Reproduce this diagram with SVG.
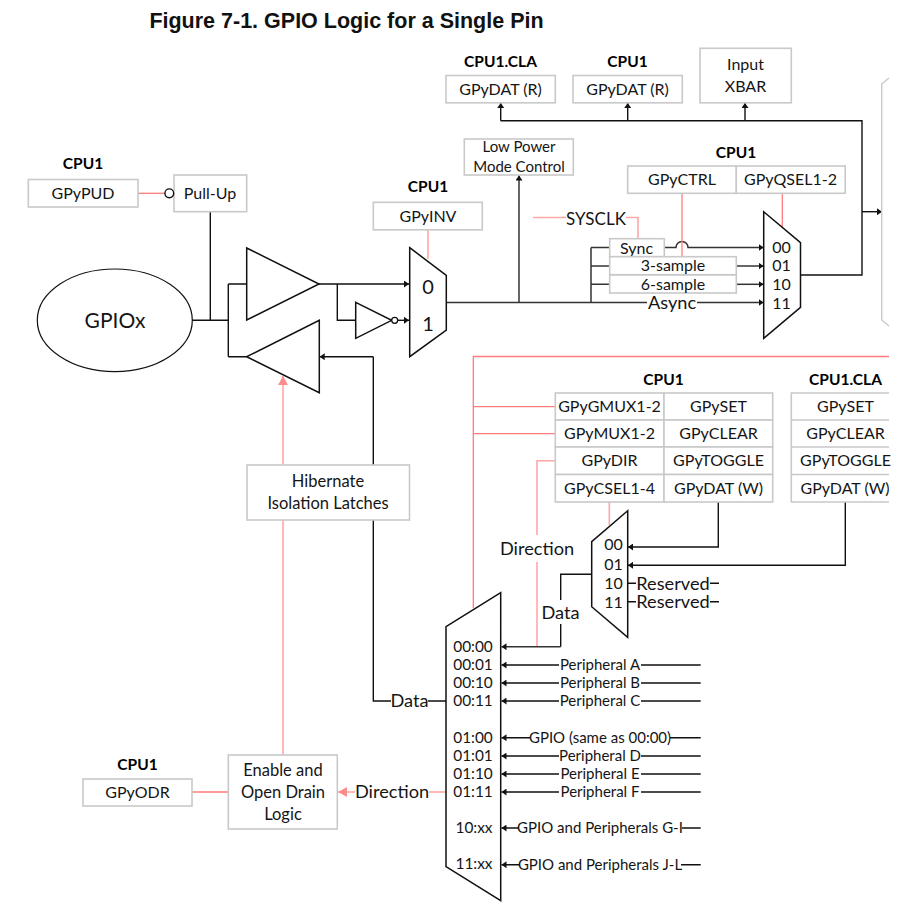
<svg xmlns="http://www.w3.org/2000/svg" width="901" height="917" viewBox="0 0 901 917">
<style>
text{font-family:"Lato","Open Sans","Liberation Sans",sans-serif;fill:#151515;text-anchor:middle}
.t{font-size:16px}.n{font-size:15.4px}.p{font-size:15px}.w{font-size:16.5px}.lg{font-size:18.2px}.h{font-size:15.5px;font-weight:700;fill:#000}
.b{fill:#fff;stroke:#c9c9c9;stroke-width:1.6}
.k{fill:none;stroke:#111;stroke-width:1.4}
.g{fill:none;stroke:#333;stroke-width:1.5}
.r{fill:none;stroke:#ff7c7c;stroke-width:1.3}
.rl{fill:none;stroke:#ffa6a6;stroke-width:1.6}
.m{fill:#fff;stroke:#111;stroke-width:1.5}
</style>
<defs>
<marker id="a" markerUnits="userSpaceOnUse" markerWidth="6" markerHeight="7" refX="5" refY="3.5" orient="auto"><path d="M0 0L5 3.5L0 7z" fill="#111"/></marker>
<marker id="ap" markerUnits="userSpaceOnUse" markerWidth="10" markerHeight="10" refX="9" refY="5" orient="auto"><path d="M0 0L9 5L0 10z" fill="#ff8c8c"/></marker>
</defs>
<rect width="901" height="917" fill="#fff"/>
<text x="346.5" y="28" style="font-family:'Liberation Sans',sans-serif;font-size:21.5px;font-weight:700;fill:#111">Figure 7-1. GPIO Logic for a Single Pin</text>

<g id="connectors">
<path class="r" d="M138 193.3H165"/>
<path class="k" d="M210.3 211.7V320.3M192 320.3H228.3M228.3 284V356.7M228.3 284H246.7M228.3 356.7H246.7"/>
<path class="k" d="M319 284H409" marker-end="url(#a)"/>
<path class="k" d="M337.3 284V320.3H355.7"/>
<path class="k" d="M397.7 320.3H409" marker-end="url(#a)"/>
<path class="rl" d="M428 229.7V259"/>
<path class="k" d="M373.3 356.7V701H391M428 701H446"/>
<path class="k" d="M373.3 356.7H319.7" marker-end="url(#a)"/>
<path class="rl" d="M283 465V376" marker-end="url(#ap)"/>
<path class="rl" d="M283 755V520"/>
<path class="r" d="M192 792H228"/>
<path class="rl" d="M446 792H429"/>
<path class="rl" d="M355 792H338" marker-end="url(#ap)"/>
<path class="g" d="M446.3 302.5H647M697 302.5H763.5" marker-end="url(#a)"/>
<path class="g" d="M519 302.5V175.5" marker-end="url(#a)"/>
<path class="g" d="M591 247.5V302.5M591 247.5H610M591 266H610M591 284.3H610"/>
<path class="g" d="M664.3 247.5H676a6 6 0 0 1 12 0H763.5" marker-end="url(#a)"/>
<path class="g" d="M736 266H763.5" marker-end="url(#a)"/>
<path class="g" d="M736 284.3H763.5" marker-end="url(#a)"/>
<path class="k" d="M800.5 275H862V120.7H500.7"/>
<path class="k" d="M500.7 120.7V103" marker-end="url(#a)"/>
<path class="k" d="M627.7 120.7V103" marker-end="url(#a)"/>
<path class="k" d="M745 120.7V103" marker-end="url(#a)"/>
<path class="k" d="M862 211.7H882" marker-end="url(#a)"/>
<path class="rl" d="M533 217.5H566" stroke-width="1"/>
<path class="rl" d="M626 217.5H638V238" stroke-width="1"/>
<path class="r" d="M682 193.5V256.5"/>
<path class="r" d="M782.3 193.5V228"/>
<path class="r" d="M473.3 608V356.5H889M473.3 406.7H555M473.3 433.7H555"/>
<path class="rl" d="M555 460.7H537V535M537 562V646.7"/>
<path class="rl" d="M609.3 502V525"/>
<path class="k" d="M718.3 502V547H628" marker-end="url(#a)"/>
<path class="k" d="M845.3 502V565.3H628" marker-end="url(#a)"/>
<path class="k" d="M628 583.3H636M710 583.3H719M628 601.7H636M710 601.7H719"/>
<path class="k" d="M591.7 574.3H560.7V600M560.7 624V646.7"/>
<path class="g" d="M560.7 646.7H501.5" marker-end="url(#a)"/>
<g class="k">
<path d="M700.7 665H641M559 665H501.5" marker-end="url(#a)"/>
<path d="M700.7 683H641M559 683H501.5" marker-end="url(#a)"/>
<path d="M700.7 701H641M559 701H501.5" marker-end="url(#a)"/>
<path d="M700.7 737.7H670M530 737.7H501.5" marker-end="url(#a)"/>
<path d="M700.7 756H641M559 756H501.5" marker-end="url(#a)"/>
<path d="M700.7 774H641M559 774H501.5" marker-end="url(#a)"/>
<path d="M700.7 792H641M559 792H501.5" marker-end="url(#a)"/>
<path d="M700.7 828H682M519 828H501.5" marker-end="url(#a)"/>
<path d="M700.7 864.7H681M520 864.7H501.5" marker-end="url(#a)"/>
</g>
</g>

<g id="gpiox"><ellipse cx="114.8" cy="320.3" rx="77.5" ry="51.3" fill="#fff" stroke="#111" stroke-width="1.2"/><text x="115" y="328" style="font-size:21px">GPIOx</text></g>
<g id="gpypud"><text class="h" x="83" y="169">CPU1</text><rect class="b" x="28.3" y="179.5" width="109.7" height="27.5"/><text class="t" x="83" y="199">GPyPUD</text></g>
<g id="pullup"><rect class="b" x="174" y="175" width="72.7" height="36.7"/><text class="t" x="210" y="199">Pull-Up</text><circle cx="169.3" cy="193.3" r="4.4" fill="#fff" stroke="#111" stroke-width="1.4"/></g>
<g id="buf-in"><path class="m" d="M246.7 248L319 284L246.7 320z"/></g>
<g id="buf-out"><path class="m" d="M246.7 356.7L319.3 320.3V392.7z"/></g>
<g id="inverter"><path class="m" d="M355.7 302.3L391.7 320.3L355.7 338.3z"/><circle cx="394.7" cy="320.3" r="3" fill="#fff" stroke="#111" stroke-width="1.3"/></g>
<g id="gpyinv"><text class="h" x="428" y="192">CPU1</text><rect class="b" x="373.3" y="202.3" width="109" height="27.5"/><text class="t" x="428" y="222">GPyINV</text></g>
<g id="mux-inv"><path class="m" d="M409.7 247.7L446.3 275.3V330L409.7 356.7z"/><text x="428" y="294" style="font-size:20px">0</text><text x="428" y="331" style="font-size:20px">1</text></g>
<g id="lpm"><rect class="b" x="464.3" y="139" width="109" height="36"/><text class="p" x="519" y="152">Low Power</text><text class="p" x="519" y="172">Mode Control</text></g>
<g id="dat-cla"><text class="h" x="500.5" y="67">CPU1.CLA</text><rect class="b" x="446" y="75.5" width="109.3" height="27.3"/><text class="t" x="500.5" y="95">GPyDAT (R)</text></g>
<g id="dat-cpu"><text class="h" x="627.5" y="67">CPU1</text><rect class="b" x="573" y="75.5" width="109.3" height="27.3"/><text class="t" x="627.5" y="95">GPyDAT (R)</text></g>
<g id="xbar"><rect class="b" x="700" y="48.3" width="91.3" height="54.5"/><text class="t" x="745.5" y="70">Input</text><text class="t" x="745.5" y="92">XBAR</text></g>
<g id="qual-regs"><text class="h" x="736" y="158">CPU1</text><rect class="b" x="627.7" y="166" width="108.6" height="27.3"/><rect class="b" x="736.3" y="166" width="108.9" height="27.3"/><text class="t" x="682" y="185">GPyCTRL</text><text class="t" x="790.5" y="185">GPyQSEL1-2</text></g>
<g id="sysclk"><text x="596" y="225" style="font-size:17px">SYSCLK</text></g>
<g id="sync"><rect class="b" x="609.7" y="238.7" width="54.6" height="18"/><text class="t" x="636.5" y="253.5">Sync</text></g>
<g id="sample3"><rect class="b" x="609.7" y="256.7" width="126.6" height="18"/><text class="t" x="673" y="271">3-sample</text></g>
<g id="sample6"><rect class="b" x="609.7" y="275" width="126.6" height="18"/><text class="t" x="673" y="290">6-sample</text></g>
<text class="lg" x="672" y="308.5">Async</text>
<g id="mux-qual"><path class="m" d="M763.7 211.7L800.5 242.7V307.3L763.7 338.3z"/><g class="t"><text x="781.5" y="252.5">00</text><text x="781.5" y="270.5">01</text><text x="781.5" y="290">10</text><text x="781.5" y="309">11</text></g></g>
<path id="right-block" d="M889 78L881.7 84V320L889 326" fill="none" stroke="#c9c9c9" stroke-width="1.4"/>

<g id="mux-regs"><text class="h" x="663.5" y="385">CPU1</text>
<g class="b"><rect x="555.3" y="393" width="108.7" height="27"/><rect x="664" y="393" width="108.7" height="27"/><rect x="555.3" y="420" width="108.7" height="27"/><rect x="664" y="420" width="108.7" height="27"/><rect x="555.3" y="447" width="108.7" height="27.5"/><rect x="664" y="447" width="108.7" height="27.5"/><rect x="555.3" y="474.5" width="108.7" height="27.5"/><rect x="664" y="474.5" width="108.7" height="27.5"/></g>
<g class="t"><text x="609.5" y="412">GPyGMUX1-2</text><text x="718.5" y="412">GPySET</text><text x="609.5" y="439">GPyMUX1-2</text><text x="718.5" y="439">GPyCLEAR</text><text x="609.5" y="466">GPyDIR</text><text x="718.5" y="466">GPyTOGGLE</text><text x="609.5" y="494">GPyCSEL1-4</text><text x="718.5" y="494">GPyDAT (W)</text></g></g>
<g id="cla-regs"><text class="h" x="845.5" y="385">CPU1.CLA</text>
<path d="M889 393H791.3V502H889M791.3 420H889M791.3 447H889M791.3 474.5H889" fill="none" stroke="#c9c9c9" stroke-width="1.6"/>
<g class="t"><text x="845.5" y="412">GPySET</text><text x="845.5" y="439">GPyCLEAR</text><text x="845.5" y="466">GPyTOGGLE</text><text x="845" y="494">GPyDAT (W)</text></g></g>
<g id="mux-dat"><path class="m" d="M627.7 510.7L591.7 541.7V606.7L627.7 637.3z"/><g class="t"><text x="613.5" y="550">00</text><text x="613.5" y="570">01</text><text x="613.5" y="589">10</text><text x="613.5" y="608">11</text></g></g>
<text class="lg" x="537" y="555">Direction</text>
<text class="lg" x="560.5" y="618.5">Data</text>
<text class="lg" x="673" y="590">Reserved</text>
<text class="lg" x="673" y="608">Reserved</text>

<g id="mux-main"><path class="m" d="M500.7 592.7L446 626.7V866.7L500.7 900.7z"/>
<g class="n"><text x="473" y="652">00:00</text><text x="473" y="670">00:01</text><text x="473" y="688">00:10</text><text x="473" y="706">00:11</text><text x="473" y="743">01:00</text><text x="473" y="761">01:01</text><text x="473" y="779">01:10</text><text x="473" y="797">01:11</text><text x="474" y="833">10:xx</text><text x="474" y="869">11:xx</text></g></g>
<g class="p"><text x="600" y="670">Peripheral A</text><text x="600" y="688">Peripheral B</text><text x="600" y="706">Peripheral C</text><text x="600" y="743">GPIO (same as 00:00)</text><text x="600" y="761">Peripheral D</text><text x="600" y="779">Peripheral E</text><text x="600" y="797">Peripheral F</text><text x="600" y="833">GPIO and Peripherals G-I</text><text x="600" y="870">GPIO and Peripherals J-L</text></g>
<text x="409.5" y="707" class="lg">Data</text>
<text x="392" y="798" class="lg">Direction</text>

<g id="hibernate"><rect class="b" x="247" y="465" width="162.5" height="55"/><text class="w" x="328" y="487">Hibernate</text><text class="w" x="328" y="509">Isolation Latches</text></g>
<g id="enable"><rect class="b" x="228.3" y="755" width="109" height="74"/><text class="w" x="283" y="776">Enable and</text><text class="w" x="283" y="798">Open Drain</text><text class="w" x="283" y="820">Logic</text></g>
<g id="gpyodr"><text class="h" x="137.5" y="770">CPU1</text><rect class="b" x="83" y="779" width="109" height="27"/><text class="t" x="137.5" y="798">GPyODR</text></g>
</svg>
